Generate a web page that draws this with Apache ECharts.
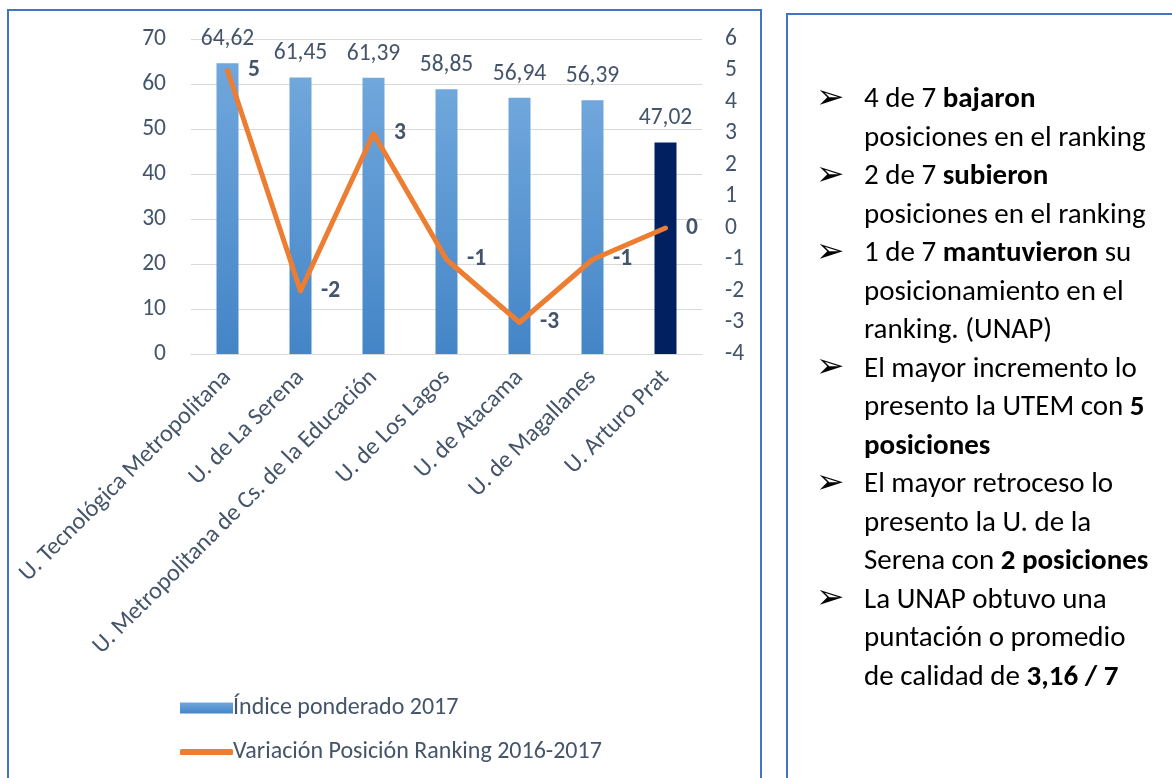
<!DOCTYPE html>
<html>
<head>
<meta charset="utf-8">
<script src="https://cdn.jsdelivr.net/npm/echarts@6/dist/echarts.min.js"></script>
<style>
  html, body { margin: 0; padding: 0; background: #fff; }
  #chart { width: 1172px; height: 778px; }
</style>
</head>
<body>
<div id="chart"></div>
<script>
// ---- data ----
const categories = [
  'U. Tecnológica Metropolitana',
  'U. de La Serena',
  'U. Metropolitana de Cs. de la Educación',
  'U. de Los Lagos',
  'U. de Atacama',
  'U. de Magallanes',
  'U. Arturo Prat'
];
const indiceValues = [64.62, 61.45, 61.39, 58.85, 56.94, 56.39, 47.02];
const variacionValues = [5, -2, 3, -1, -3, -1, 0];
const seriesNames = ['Índice ponderado 2017', 'Variación Posición Ranking 2016-2017'];
const leftTicks = { min: 0, max: 70, interval: 10 };
const rightTicks = { min: -4, max: 6, interval: 1 };
const highlightIndex = 6;

// right-panel text: [segments], bullet flag
const panelLines = [
  { bullet: true,  parts: [['4 de 7 ', 0], ['bajaron', 1]] },
  { bullet: false, parts: [['posiciones en el ranking', 0]] },
  { bullet: true,  parts: [['2 de 7 ', 0], ['subieron', 1]] },
  { bullet: false, parts: [['posiciones en el ranking', 0]] },
  { bullet: true,  parts: [['1 de 7 ', 0], ['mantuvieron', 1], [' su', 0]] },
  { bullet: false, parts: [['posicionamiento en el', 0]] },
  { bullet: false, parts: [['ranking. (UNAP)', 0]] },
  { bullet: true,  parts: [['El mayor incremento lo', 0]] },
  { bullet: false, parts: [['presento la UTEM con ', 0], ['5', 1]] },
  { bullet: false, parts: [['posiciones', 1]] },
  { bullet: true,  parts: [['El mayor retroceso lo', 0]] },
  { bullet: false, parts: [['presento la U. de la', 0]] },
  { bullet: false, parts: [['Serena con ', 0], ['2 posiciones', 1]] },
  { bullet: true,  parts: [['La UNAP obtuvo una', 0]] },
  { bullet: false, parts: [['puntación o promedio', 0]] },
  { bullet: false, parts: [['de calidad de ', 0], ['3,16 / 7', 1]] }
];

// ---- styles ----
const FONT = 'Carlito, Lato, "Open Sans", sans-serif';
const TXT = '#44546A';
const BORDER = '#4472C4';

const chart = echarts.init(document.getElementById('chart'), null, { renderer: 'canvas' });

const barGradient = new echarts.graphic.LinearGradient(0, 0, 0, 1, [
  { offset: 0, color: '#70A7DC' },
  { offset: 1, color: '#4485C7' }
]);

const panelGraphics = [];
panelLines.forEach((ln, i) => {
  const y = 100 + i * 38.5;
  if (ln.bullet) {
    panelGraphics.push({
      type: 'text', x: 816, y: y - 1, silent: true,
      style: { text: '➢', font: '34px "DejaVu Sans"', fill: '#000', verticalAlign: 'middle', align: 'left' }
    });
  }
  const txt = ln.parts.map(p => p[1] ? '{b|' + p[0] + '}' : '{n|' + p[0] + '}').join('');
  panelGraphics.push({
    type: 'text', x: 864, y: y, silent: true,
    style: {
      text: txt,
      verticalAlign: 'middle', align: 'left',
      rich: {
        n: { fontFamily: FONT, fontSize: 29, fill: '#000', color: '#000' },
        b: { fontFamily: FONT, fontSize: 29, fontWeight: 'bold', fill: '#000', color: '#000' }
      }
    }
  });
});

const option = {
  animation: false,
  backgroundColor: '#fff',
  textStyle: { fontFamily: FONT },
  grid: { left: 191, right: 470, top: 39, bottom: 424, containLabel: false },
  legend: [
    {
      data: [{ name: seriesNames[0], icon: 'rect' }],
      left: 175, top: 691,
      itemWidth: 53, itemHeight: 11, itemGap: 5,
      textStyle: { color: TXT, fontSize: 24, fontFamily: FONT, padding: [0, 0, 0, -5] }
    },
    {
      data: [{ name: seriesNames[1], icon: 'roundRect' }],
      left: 175, top: 735,
      itemWidth: 53, itemHeight: 6,
      textStyle: { color: TXT, fontSize: 24, fontFamily: FONT, padding: [0, 0, 0, -5] }
    }
  ],
  xAxis: {
    type: 'category',
    data: categories,
    axisLine: { show: true, lineStyle: { color: '#D9D9D9', width: 1 } },
    axisTick: { show: false },
    axisLabel: {
      rotate: 45, interval: 0, color: TXT, fontSize: 24.2, fontFamily: FONT, margin: 20
    }
  },
  yAxis: [
    {
      type: 'value', position: 'left',
      min: leftTicks.min, max: leftTicks.max, interval: leftTicks.interval,
      axisLine: { show: false }, axisTick: { show: false },
      axisLabel: { color: TXT, fontSize: 23.5, fontFamily: FONT, margin: 25 },
      splitLine: { lineStyle: { color: '#D9D9D9', width: 1 } }
    },
    {
      type: 'value', position: 'right',
      min: rightTicks.min, max: rightTicks.max, interval: rightTicks.interval,
      axisLine: { show: false }, axisTick: { show: false },
      axisLabel: { color: TXT, fontSize: 23.5, fontFamily: FONT, margin: 23 },
      splitLine: { show: false }
    }
  ],
  series: [
    {
      name: seriesNames[0],
      type: 'bar',
      yAxisIndex: 0,
      barWidth: 22,
      itemStyle: { color: barGradient },
      data: indiceValues.map((v, i) => i === highlightIndex
        ? { value: v, itemStyle: { color: '#002060' } }
        : v),
      label: {
        show: true, position: 'top', distance: 12,
        color: TXT, fontSize: 23.5, fontFamily: FONT,
        formatter: p => p.value.toFixed(2).replace('.', ',')
      },
      z: 2
    },
    {
      name: seriesNames[1],
      type: 'line',
      yAxisIndex: 1,
      data: variacionValues,
      symbol: 'circle', symbolSize: 1, showSymbol: true,
      itemStyle: { color: '#ED7D31' },
      lineStyle: { color: '#ED7D31', width: 5, cap: 'round', join: 'round' },
      label: {
        show: true, position: 'right', distance: 20,
        color: TXT, fontSize: 23.5, fontWeight: 'bold', fontFamily: FONT,
        formatter: p => String(p.value)
      },
      z: 3
    }
  ],
  graphic: [
    {
      type: 'rect', silent: true, z: -1,
      shape: { x: 8, y: 10, width: 753, height: 775 },
      style: { fill: 'none', stroke: BORDER, lineWidth: 2 }
    },
    {
      type: 'rect', silent: true, z: -1,
      shape: { x: 787, y: 14, width: 400, height: 775 },
      style: { fill: 'none', stroke: BORDER, lineWidth: 2 }
    }
  ].concat(panelGraphics)
};

chart.setOption(option);
</script>
</body>
</html>
